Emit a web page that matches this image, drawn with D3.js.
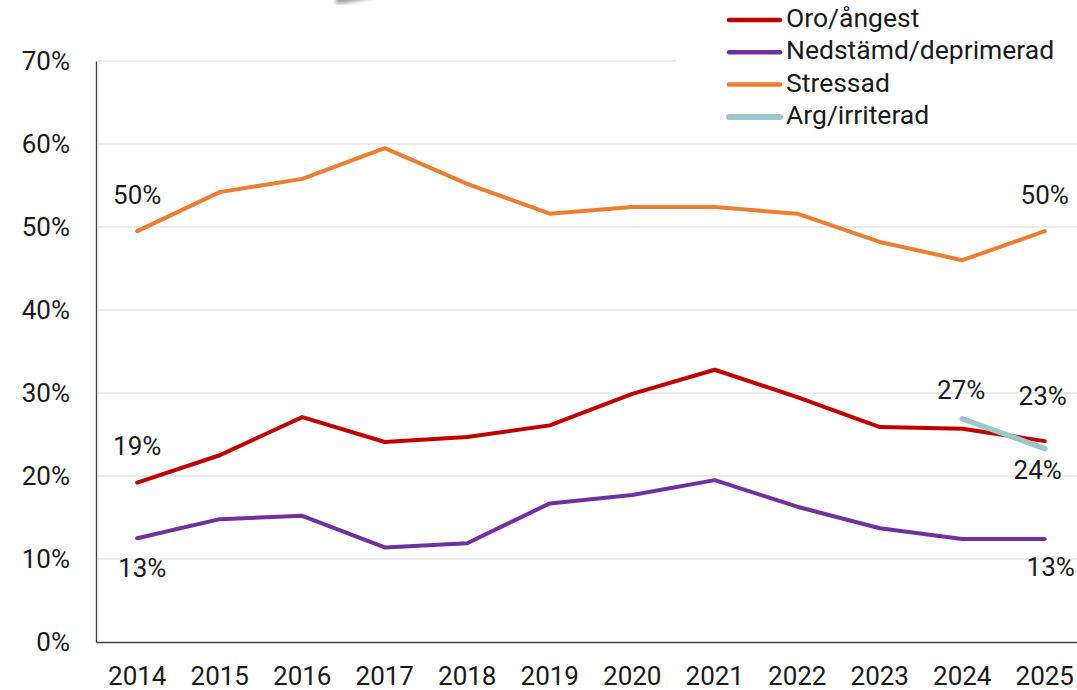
<!DOCTYPE html>
<html>
<head>
<meta charset="utf-8">
<script src="https://cdn.jsdelivr.net/npm/d3@7"></script>
<style>
  body { margin: 0; background: #fff; }
  text { font-family: Roboto, "Liberation Sans", sans-serif; fill: #1a1a1a; }
</style>
</head>
<body>
<svg id="chart"></svg>
<script>
// data
const years = ["2014", "2015", "2016", "2017", "2018", "2019", "2020", "2021", "2022", "2023", "2024", "2025"];
const oro = [19.2, 22.5, 27.1, 24.1, 24.7, 26.1, 29.9, 32.8, 29.5, 25.9, 25.7, 24.2];
const nedstamd = [12.5, 14.8, 15.2, 11.4, 11.9, 16.7, 17.7, 19.5, 16.3, 13.7, 12.4, 12.4];
const stressad = [49.5, 54.2, 55.8, 59.5, 55.2, 51.6, 52.4, 52.4, 51.6, 48.2, 46.0, 49.5];
const arg = [null, null, null, null, null, null, null, null, null, null, 26.9, 23.3];
const yTicks = [0, 10, 20, 30, 40, 50, 60, 70];

const width = 1077, height = 690;
const margin = { top: 61, right: -9, bottom: 48, left: 96 };

const svg = d3.select("#chart").attr("width", width).attr("height", height);

const x = d3.scaleBand().domain(years).range([margin.left, width - margin.right]);
const y = d3.scaleLinear().domain([0, 70]).range([height - margin.bottom, margin.top]);
const cx = (d) => x(d) + x.bandwidth() / 2;

//gridlines
svg.append("g")
  .selectAll("line")
  .data(yTicks.slice(1))
  .enter()
  .append("line")
  .attr("x1", margin.left)
  .attr("x2", width)
  .attr("y1", (d) => y(d))
  .attr("y2", (d) => y(d))
  .attr("stroke", "#d9d9d9")
  .attr("stroke-width", 1);

//y axis
const yAxis = svg.append("g")
  .attr("transform", `translate(${margin.left},0)`)
  .call(d3.axisLeft(y).tickValues(yTicks).tickSize(0).tickPadding(26).tickFormat((d) => d + "%"));
yAxis.select(".domain").attr("stroke", "#404040").attr("stroke-width", 1.3);
yAxis.selectAll("text").style("font-size", "26px").attr("fill", "#1a1a1a");

//x axis
const xAxis = svg.append("g")
  .attr("transform", `translate(0,${y(0)})`)
  .call(d3.axisBottom(x).tickSize(0).tickPadding(25));
xAxis.select(".domain").attr("stroke", "#404040").attr("stroke-width", 1.3);
xAxis.selectAll("text").style("font-size", "26px").attr("fill", "#1a1a1a");

const series = [
  { name: "Oro/ångest", values: oro, color: "#c00000", w: 4 },
  { name: "Nedstämd/deprimerad", values: nedstamd, color: "#7030a0", w: 4 },
  { name: "Stressad", values: stressad, color: "#ed7d31", w: 4 },
  { name: "Arg/irriterad", values: arg, color: "#9cc6c8", w: 5.5 },
];

const line = d3.line()
  .defined((d) => d.v !== null)
  .x((d) => cx(d.year))
  .y((d) => y(d.v));

series.forEach((s) => {
  svg.append("path")
    .datum(years.map((yr, i) => ({ year: yr, v: s.values[i] })))
    .attr("d", line)
    .attr("fill", "none")
    .attr("stroke", s.color)
    .attr("stroke-width", s.w)
    .attr("stroke-linejoin", "round")
    .attr("stroke-linecap", "round");
});

//data labels (series index, year index, label, dx, dy)
const labels = [
  [2, 0, "50%", 0, -34],
  [2, 11, "50%", 0, -34],
  [0, 0, "19%", 0, -35],
  [1, 0, "13%", 5, 32],
  [3, 10, "27%", -1, -27],
  [3, 11, "23%", -2, -50],
  [0, 11, "24%", -7, 31],
  [1, 11, "13%", 6, 30],
];
svg.append("g")
  .selectAll("text")
  .data(labels)
  .enter()
  .append("text")
  .attr("x", (d) => cx(years[d[1]]) + d[3])
  .attr("y", (d) => y(series[d[0]].values[d[1]]) + d[4])
  .attr("text-anchor", "middle")
  .attr("dominant-baseline", "middle")
  .style("font-size", "26px")
  .text((d) => d[2]);

//legend with white background
svg.append("rect")
  .attr("x", 676)
  .attr("y", 0)
  .attr("width", width - 676)
  .attr("height", 135)
  .attr("fill", "#fff");

const legend = svg.append("g").attr("transform", "translate(729,20)");
series.forEach((s, i) => {
  legend.append("line")
    .attr("x1", 0)
    .attr("x2", 51)
    .attr("y1", i * 32.3)
    .attr("y2", i * 32.3)
    .attr("stroke", s.color)
    .attr("stroke-width", s.w + 0.5)
    .attr("stroke-linecap", "round");
  legend.append("text")
    .attr("x", 57)
    .attr("y", i * 32.3)
    .attr("dominant-baseline", "middle")
    .style("font-size", "26.5px")
    .text(s.name);
});

//faint shadow artifact at the top
const defs = svg.append("defs");
defs.append("filter").attr("id", "blur").append("feGaussianBlur").attr("stdDeviation", 2);
svg.append("path")
  .attr("d", "M336,4 L345,3 Q360,0 372,-2 L372,-6 L336,-6 Z")
  .attr("fill", "#9a9a9a")
  .attr("filter", "url(#blur)");
</script>
</body>
</html>
